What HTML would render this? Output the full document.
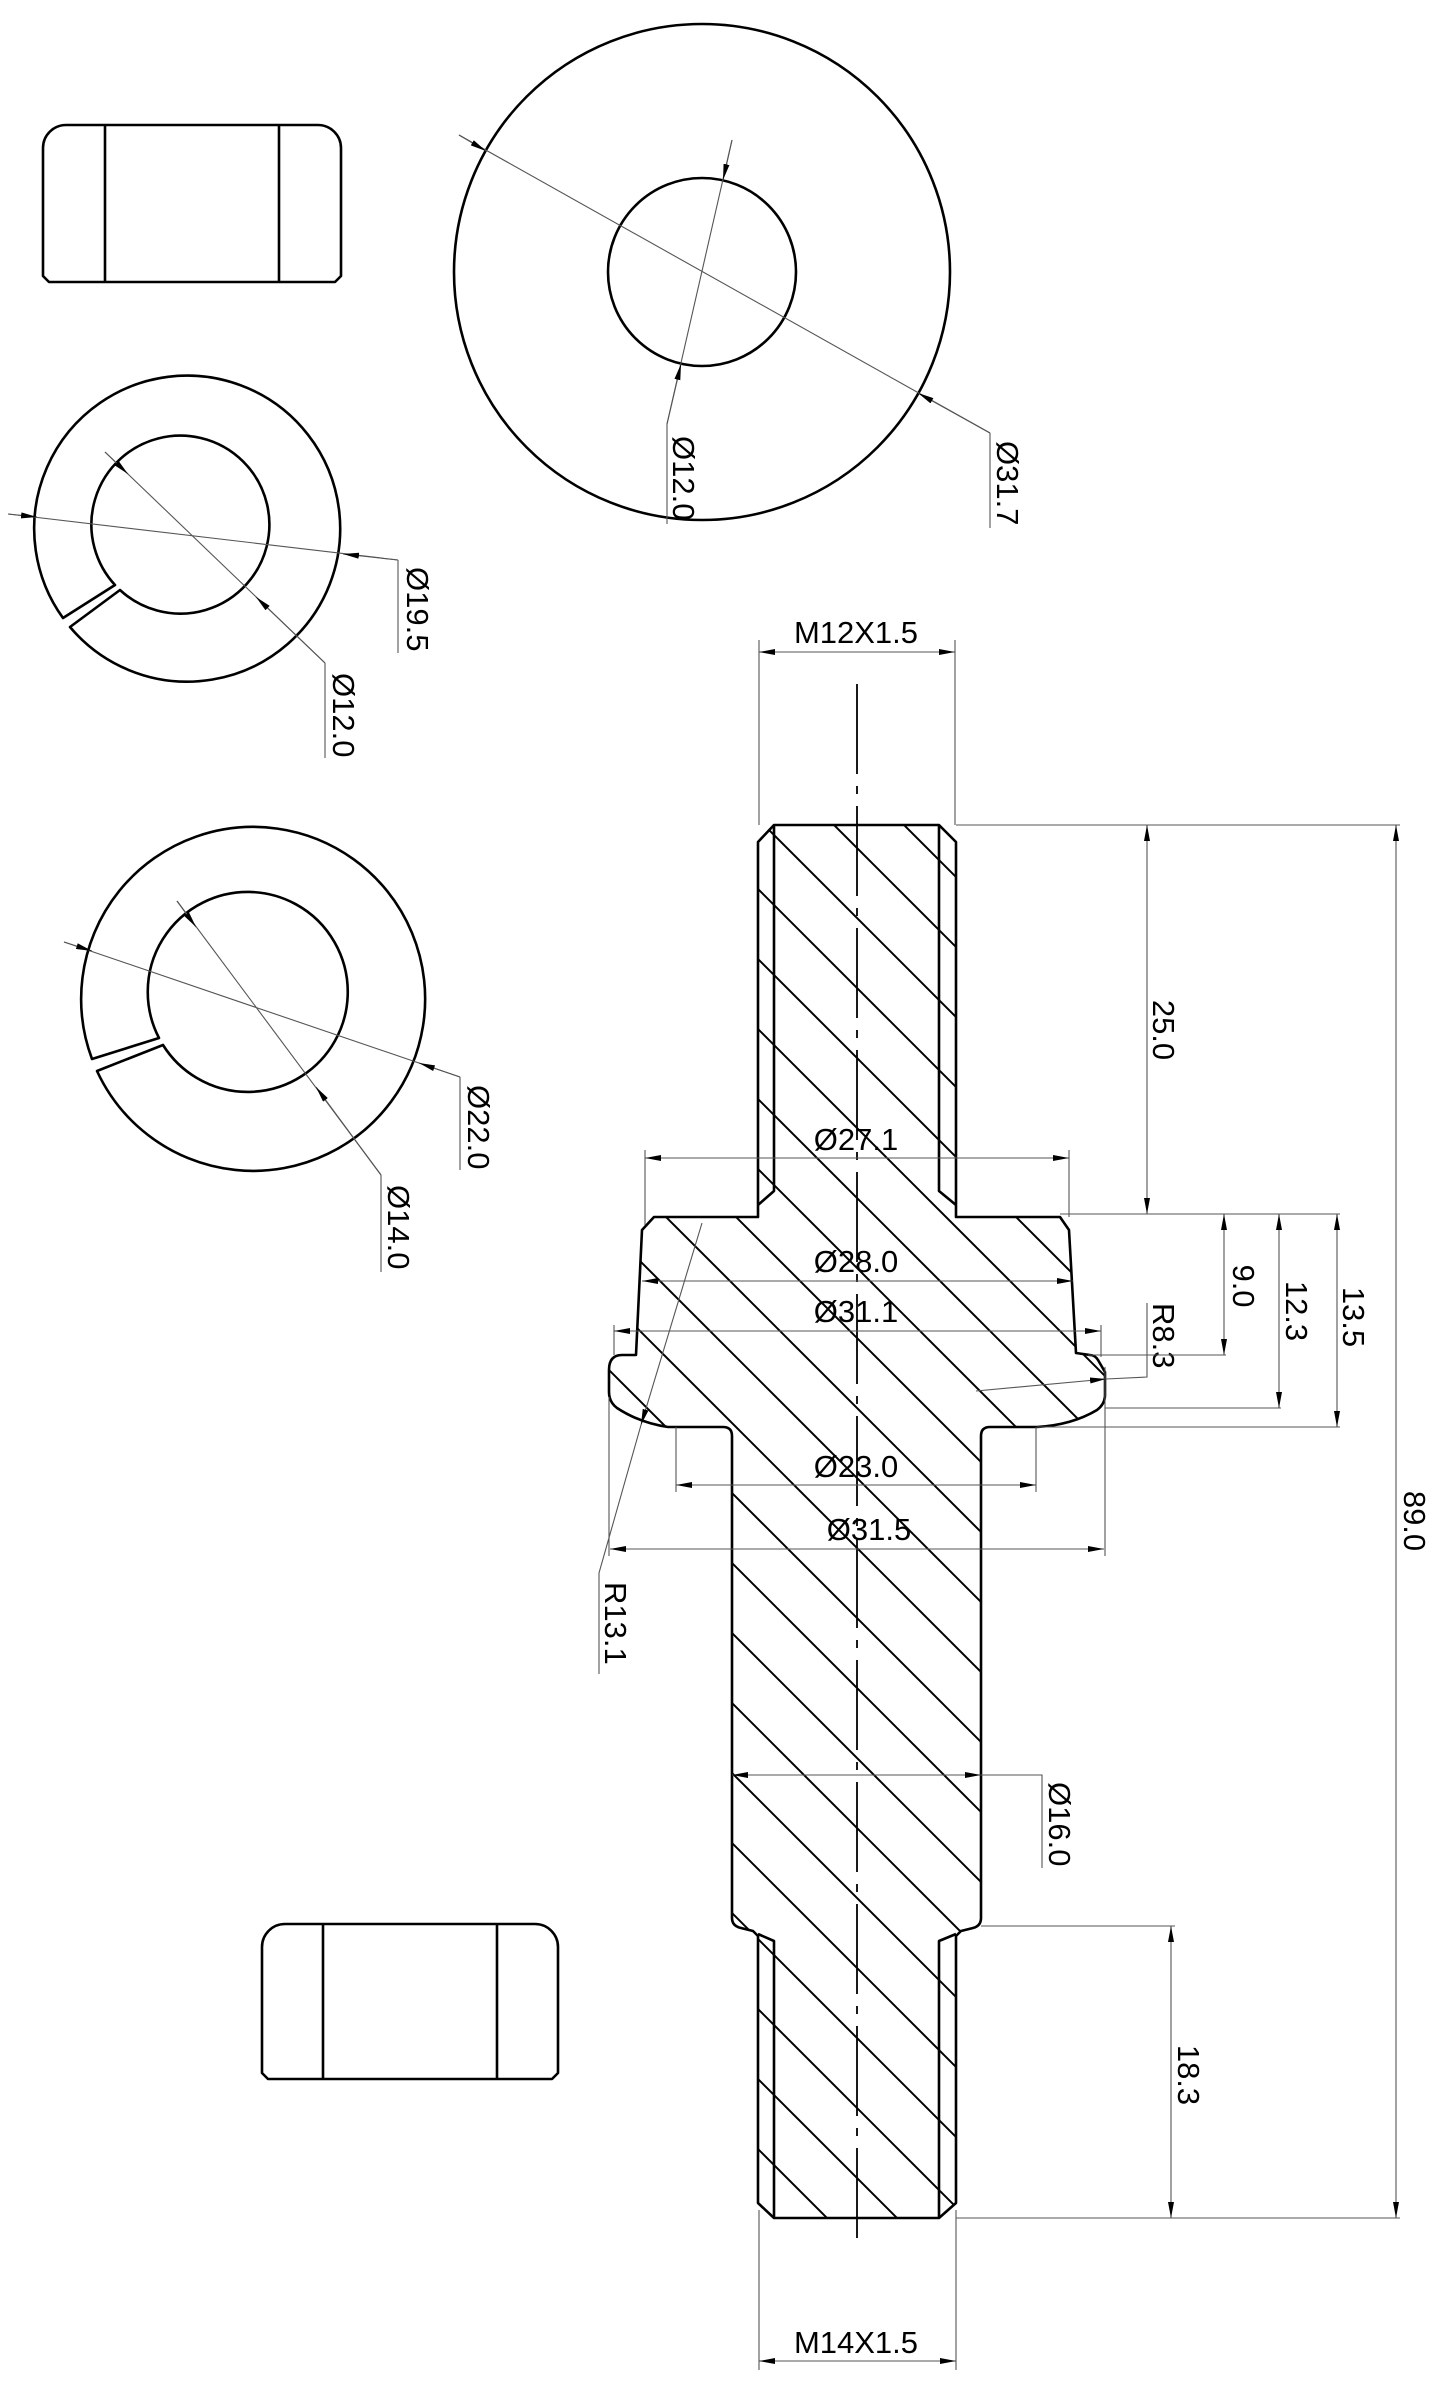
<!DOCTYPE html>
<html><head><meta charset="utf-8"><style>
html,body{margin:0;padding:0;background:#fff;width:1445px;height:2390px;overflow:hidden;}
svg{display:block;}
text{font-family:"Liberation Sans",Arial,sans-serif;font-size:31px;fill:#000;}
.o{fill:none;stroke:#000;stroke-width:2.6;stroke-linejoin:round;}
.t{fill:none;stroke:#555;stroke-width:1.1;}
.h{stroke:#000;stroke-width:2;}
</style></head><body>
<svg width="1445" height="2390" viewBox="0 0 1445 2390" xmlns="http://www.w3.org/2000/svg">
<defs>
<marker id="a" viewBox="0 0 16 6" refX="16" refY="3" markerWidth="16" markerHeight="6" markerUnits="userSpaceOnUse" orient="auto-start-reverse"><path d="M0,0 L16,3 L0,6z" fill="#000"/></marker>
<clipPath id="sc"><path id="sp" d="M774,825 L939,825 L956,842 L956,1217 L1060,1217 L1069,1230 L1076,1353 L1090,1355 Q1095,1355 1098,1360 L1105,1372 L1105,1395 Q1105,1404 1097,1410 Q1072,1425 1037,1427 L990,1427 Q981,1427 981,1436 L981,1918 Q981,1926 973,1928 L961,1931 L956,1936 L956,2203 L939,2218 L774,2218 L758,2203 L758,1936 L753,1931 L741,1928 Q732,1926 732,1918 L732,1436 Q732,1427 723,1427 L668,1427 Q640,1423 617,1408 Q609,1402 609,1392 L609,1370 Q609,1355 622,1355 L636,1355 L642,1230 L654,1217 L758,1217 L758,842 Z"/></clipPath>
</defs>

<path class="o" d="M43,148 A23,23 0 0 1 66,125 L318,125 A23,23 0 0 1 341,148 L341,276 L335,282 L49,282 L43,276 Z"/>
<line class="o" x1="105" y1="125" x2="105" y2="282"/><line class="o" x1="279" y1="125" x2="279" y2="282"/>

<path class="o" d="M262,1947 A23,23 0 0 1 285,1924 L535,1924 A23,23 0 0 1 558,1947 L558,2073 L552,2079 L268,2079 L262,2073 Z"/>
<line class="o" x1="323" y1="1924" x2="323" y2="2079"/><line class="o" x1="497" y1="1924" x2="497" y2="2079"/>

<circle class="o" cx="702" cy="272" r="248"/>
<circle class="o" cx="702" cy="272" r="94"/>
<line class="t" x1="459" y1="135" x2="990" y2="433"/>
<line class="t" x1="459" y1="135" x2="486" y2="151" marker-end="url(#a)"/>
<line class="t" x1="990" y1="433" x2="918" y2="393" marker-end="url(#a)"/>
<line class="t" x1="990" y1="433" x2="990" y2="528"/>
<text transform="translate(997,441) rotate(90)">Ø31.7</text>
<line class="t" x1="732" y1="140" x2="667" y2="424"/>
<line class="t" x1="732" y1="140" x2="723" y2="180" marker-end="url(#a)"/>
<line class="t" x1="667" y1="424" x2="681" y2="364" marker-end="url(#a)"/>
<line class="t" x1="667" y1="424" x2="667" y2="524"/>
<text transform="translate(673,436) rotate(90)">Ø12.0</text>

<path class="o" d="M63,618 A153,153 0 1 1 70,627 L120,590 A89,89 0 1 0 115,585 Z"/>
<line class="t" x1="8" y1="514" x2="398" y2="560"/>
<line class="t" x1="8" y1="514" x2="37" y2="517" marker-end="url(#a)"/>
<line class="t" x1="398" y1="560" x2="343" y2="554" marker-end="url(#a)"/>
<line class="t" x1="398" y1="560" x2="398" y2="653"/>
<text transform="translate(407,567) rotate(90)">Ø19.5</text>
<line class="t" x1="105" y1="452" x2="325" y2="663"/>
<line class="t" x1="105" y1="452" x2="128" y2="474" marker-end="url(#a)"/>
<line class="t" x1="325" y1="663" x2="256" y2="597" marker-end="url(#a)"/>
<line class="t" x1="325" y1="663" x2="325" y2="758"/>
<text transform="translate(333,673) rotate(90)">Ø12.0</text>

<path class="o" d="M92,1059 A172,172 0 1 1 97,1071 L163,1045 A100,100 0 1 0 159,1038 Z"/>
<line class="t" x1="64" y1="942" x2="460" y2="1077"/>
<line class="t" x1="64" y1="942" x2="92" y2="951" marker-end="url(#a)"/>
<line class="t" x1="460" y1="1077" x2="419" y2="1063" marker-end="url(#a)"/>
<line class="t" x1="460" y1="1077" x2="460" y2="1170"/>
<text transform="translate(468,1085) rotate(90)">Ø22.0</text>
<line class="t" x1="177" y1="901" x2="381" y2="1175"/>
<line class="t" x1="177" y1="901" x2="196" y2="927" marker-end="url(#a)"/>
<line class="t" x1="381" y1="1175" x2="316" y2="1087" marker-end="url(#a)"/>
<line class="t" x1="381" y1="1175" x2="381" y2="1272"/>
<text transform="translate(388,1185) rotate(90)">Ø14.0</text>

<g clip-path="url(#sc)">
<g class="h">
<line x1="500" y1="211" x2="1200" y2="911"/><line x1="500" y1="281" x2="1200" y2="981"/>
<line x1="500" y1="351" x2="1200" y2="1051"/><line x1="500" y1="421" x2="1200" y2="1121"/>
<line x1="500" y1="491" x2="1200" y2="1191"/><line x1="500" y1="561" x2="1200" y2="1261"/>
<line x1="500" y1="631" x2="1200" y2="1331"/><line x1="500" y1="701" x2="1200" y2="1401"/>
<line x1="500" y1="771" x2="1200" y2="1471"/><line x1="500" y1="841" x2="1200" y2="1541"/>
<line x1="500" y1="911" x2="1200" y2="1611"/><line x1="500" y1="981" x2="1200" y2="1681"/>
<line x1="500" y1="1051" x2="1200" y2="1751"/><line x1="500" y1="1121" x2="1200" y2="1821"/>
<line x1="500" y1="1191" x2="1200" y2="1891"/><line x1="500" y1="1261" x2="1200" y2="1961"/>
<line x1="500" y1="1331" x2="1200" y2="2031"/><line x1="500" y1="1401" x2="1200" y2="2101"/>
<line x1="500" y1="1471" x2="1200" y2="2171"/><line x1="500" y1="1541" x2="1200" y2="2241"/>
<line x1="500" y1="1611" x2="1200" y2="2311"/><line x1="500" y1="1681" x2="1200" y2="2381"/>
<line x1="500" y1="1751" x2="1200" y2="2451"/><line x1="500" y1="1821" x2="1200" y2="2521"/>
<line x1="500" y1="1891" x2="1200" y2="2591"/><line x1="500" y1="1961" x2="1200" y2="2661"/>
<line x1="500" y1="141" x2="1200" y2="841"/><line x1="500" y1="71" x2="1200" y2="771"/>
<line x1="500" y1="1" x2="1200" y2="701"/><line x1="500" y1="-69" x2="1200" y2="631"/>
</g></g>
<use href="#sp" class="o"/>
<path class="o" d="M774,825 L774,1191 L758,1205"/>
<path class="o" d="M939,825 L939,1191 L956,1205"/>
<path class="o" d="M758,1934 L774,1941 L774,2218"/>
<path class="o" d="M956,1934 L939,1941 L939,2218"/>
<line x1="857" y1="684" x2="857" y2="2246" stroke="#000" stroke-width="1.8" stroke-dasharray="90 12 8 12"/>

<line class="t" x1="759" y1="640" x2="759" y2="825"/><line class="t" x1="955" y1="640" x2="955" y2="825"/>
<line class="t" x1="759" y1="652" x2="955" y2="652" marker-start="url(#a)" marker-end="url(#a)"/>
<text x="856" y="643" text-anchor="middle">M12X1.5</text>

<line class="t" x1="645" y1="1150" x2="645" y2="1225"/><line class="t" x1="1069" y1="1150" x2="1069" y2="1217"/>
<line class="t" x1="645" y1="1158" x2="1069" y2="1158" marker-start="url(#a)" marker-end="url(#a)"/>
<text x="856" y="1150" text-anchor="middle">Ø27.1</text>

<line class="t" x1="642" y1="1281" x2="1073" y2="1281" marker-start="url(#a)" marker-end="url(#a)"/>
<text x="856" y="1272" text-anchor="middle">Ø28.0</text>
<line class="t" x1="614" y1="1325" x2="614" y2="1355"/><line class="t" x1="1101" y1="1325" x2="1101" y2="1357"/>
<line class="t" x1="614" y1="1331" x2="1101" y2="1331" marker-start="url(#a)" marker-end="url(#a)"/>
<text x="856" y="1322" text-anchor="middle">Ø31.1</text>

<line class="t" x1="676" y1="1427" x2="676" y2="1492"/><line class="t" x1="1036" y1="1427" x2="1036" y2="1492"/>
<line class="t" x1="676" y1="1485" x2="1036" y2="1485" marker-start="url(#a)" marker-end="url(#a)"/>
<text x="856" y="1477" text-anchor="middle">Ø23.0</text>
<line class="t" x1="609" y1="1397" x2="609" y2="1556"/><line class="t" x1="1105" y1="1367" x2="1105" y2="1556"/>
<line class="t" x1="610" y1="1549" x2="1104" y2="1549" marker-start="url(#a)" marker-end="url(#a)"/>
<text x="869" y="1540" text-anchor="middle">Ø31.5</text>

<line class="t" x1="702" y1="1223" x2="641" y2="1425" marker-end="url(#a)"/>
<polyline class="t" points="641,1425 599,1573 599,1674"/>
<text transform="translate(605,1582) rotate(90)">R13.1</text>
<line class="t" x1="976" y1="1391" x2="1106" y2="1379" marker-end="url(#a)"/>
<polyline class="t" points="1106,1379 1147,1377 1147,1303"/>
<text transform="translate(1153,1303) rotate(90)">R8.3</text>

<line class="t" x1="956" y1="825" x2="1400" y2="825"/>
<line class="t" x1="1060" y1="1214" x2="1340" y2="1214"/>
<line class="t" x1="1088" y1="1355" x2="1226" y2="1355"/>
<line class="t" x1="1105" y1="1408" x2="1281" y2="1408"/>
<line class="t" x1="1037" y1="1427" x2="1340" y2="1427"/>
<line class="t" x1="1147" y1="825" x2="1147" y2="1214" marker-start="url(#a)" marker-end="url(#a)"/>
<text transform="translate(1153,1030) rotate(90)" text-anchor="middle">25.0</text>
<line class="t" x1="1224" y1="1214" x2="1224" y2="1355" marker-start="url(#a)" marker-end="url(#a)"/>
<text transform="translate(1233,1286) rotate(90)" text-anchor="middle">9.0</text>
<line class="t" x1="1279" y1="1214" x2="1279" y2="1408" marker-start="url(#a)" marker-end="url(#a)"/>
<text transform="translate(1286,1311) rotate(90)" text-anchor="middle">12.3</text>
<line class="t" x1="1337" y1="1214" x2="1337" y2="1427" marker-start="url(#a)" marker-end="url(#a)"/>
<text transform="translate(1343,1317) rotate(90)" text-anchor="middle">13.5</text>
<line class="t" x1="1396" y1="825" x2="1396" y2="2218" marker-start="url(#a)" marker-end="url(#a)"/>
<text transform="translate(1404,1521) rotate(90)" text-anchor="middle">89.0</text>

<line class="t" x1="732" y1="1775" x2="981" y2="1775" marker-start="url(#a)" marker-end="url(#a)"/>
<polyline class="t" points="981,1775 1042,1775 1042,1868"/>
<text transform="translate(1049,1782) rotate(90)">Ø16.0</text>

<line class="t" x1="981" y1="1926" x2="1175" y2="1926"/>
<line class="t" x1="956" y1="2218" x2="1400" y2="2218"/>
<line class="t" x1="1171" y1="1926" x2="1171" y2="2218" marker-start="url(#a)" marker-end="url(#a)"/>
<text transform="translate(1178,2075) rotate(90)" text-anchor="middle">18.3</text>

<line class="t" x1="759" y1="2210" x2="759" y2="2370"/><line class="t" x1="956" y1="2210" x2="956" y2="2370"/>
<line class="t" x1="759" y1="2361" x2="956" y2="2361" marker-start="url(#a)" marker-end="url(#a)"/>
<text x="856" y="2353" text-anchor="middle">M14X1.5</text>
</svg>
</body></html>
